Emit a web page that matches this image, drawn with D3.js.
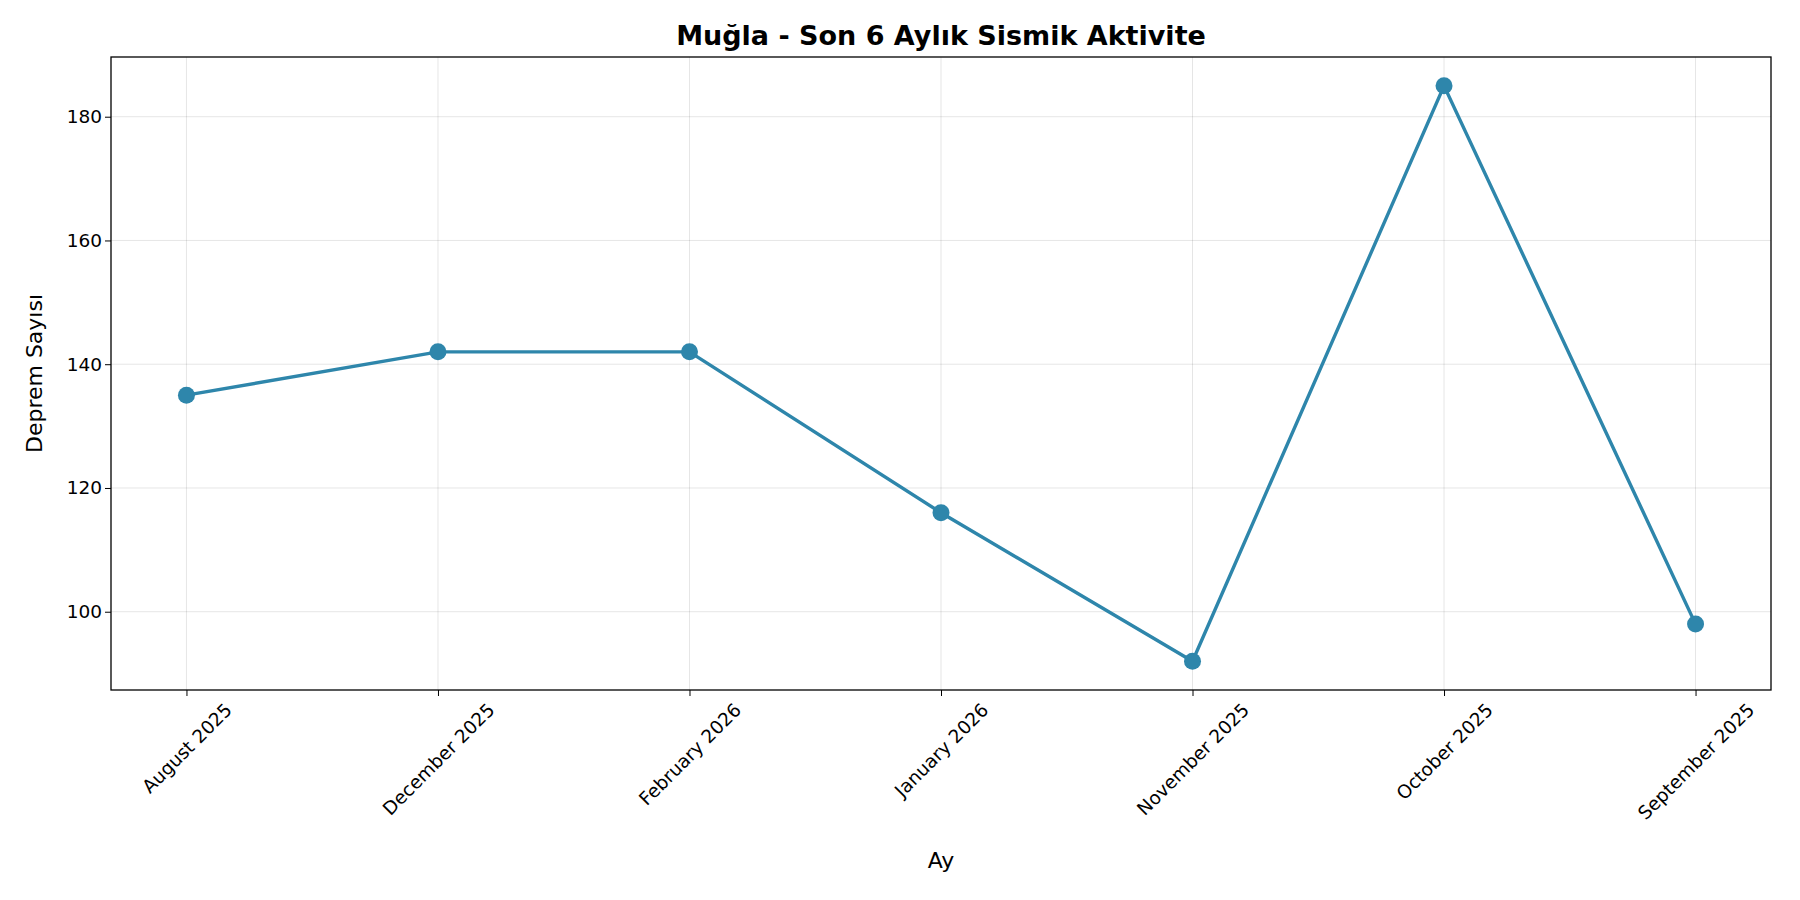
<!DOCTYPE html>
<html>
<head>
<meta charset="utf-8">
<script src="https://cdn.jsdelivr.net/npm/d3@7"></script>
<style>
  body { margin: 0; background: #fff; }
  text { font-family: "DejaVu Sans", sans-serif; }
</style>
</head>
<body>
<div id="chart"></div>
<script>
// data
const months = ['August 2025', 'December 2025', 'February 2026', 'January 2026',
  'November 2025', 'October 2025', 'September 2025']
const counts = [135, 142, 142, 116, 92, 185, 98]
const yTicks = [100, 120, 140, 160, 180]

const width = 1800, height = 900
const margin = {top: 57, right: 29, bottom: 210, left: 111}
const w = width - margin.left - margin.right
const h = height - margin.top - margin.bottom
const color = '#2E86AB'
const tickFont = 18.5

const svg = d3.select('#chart').append('svg')
  .attr('width', width).attr('height', height)
const g = svg.append('g').attr('transform', `translate(${margin.left},${margin.top})`)

const pad = (months.length - 1) * 0.05
const x = d3.scaleLinear().domain([-pad, months.length - 1 + pad]).range([0, w])
const span = d3.max(counts) - d3.min(counts)
const y = d3.scaleLinear()
  .domain([d3.min(counts) - span * 0.05, d3.max(counts) + span * 0.05])
  .range([h, 0])

// grid
g.append('g').selectAll('line').data(months).enter().append('line')
  .attr('x1', (d, i) => x(i)).attr('x2', (d, i) => x(i))
  .attr('y1', 0).attr('y2', h)
  .attr('stroke', '#000').attr('stroke-opacity', 0.1)
g.append('g').selectAll('line').data(yTicks).enter().append('line')
  .attr('x1', 0).attr('x2', w)
  .attr('y1', d => y(d)).attr('y2', d => y(d))
  .attr('stroke', '#000').attr('stroke-opacity', 0.1)

// axes
const xAxis = g.append('g').attr('transform', `translate(0,${h})`)
  .call(d3.axisBottom(x).tickValues(d3.range(months.length))
    .tickFormat(i => months[i]).tickSize(6).tickSizeOuter(0))
xAxis.selectAll('text')
  .attr('font-size', tickFont)
  .attr('text-anchor', 'middle')
  .attr('dy', null)
  .attr('dominant-baseline', 'central')
  .each(function() {
    const L = this.getComputedTextLength()
    const bh = 0.7071 * (L + tickFont * 1.15)
    d3.select(this).attr('y', 0)
      .attr('transform', `translate(0,${9 + bh / 2}) rotate(-45)`)
  })
const yAxis = g.append('g')
  .call(d3.axisLeft(y).tickValues(yTicks).tickSize(6).tickSizeOuter(0))
yAxis.selectAll('text').attr('font-size', tickFont)
g.selectAll('.domain').remove()
g.selectAll('.tick line').attr('stroke', '#000')
g.selectAll('.tick text').attr('fill', '#000').attr('font-family', 'DejaVu Sans')

g.append('rect').attr('width', w).attr('height', h)
  .attr('fill', 'none').attr('stroke', '#000').attr('stroke-width', 1.3)

// line and points
g.append('path').datum(counts)
  .attr('d', d3.line().x((d, i) => x(i)).y(d => y(d)))
  .attr('fill', 'none').attr('stroke', color).attr('stroke-width', 3.4)
g.selectAll('circle.pt').data(counts).enter().append('circle')
  .attr('class', 'pt')
  .attr('cx', (d, i) => x(i)).attr('cy', d => y(d))
  .attr('r', 8.5).attr('fill', color)

// labels
svg.append('text').attr('x', margin.left + w / 2).attr('y', 45)
  .attr('text-anchor', 'middle').attr('font-size', 27).attr('font-weight', 'bold')
  .text('Muğla - Son 6 Aylık Sismik Aktivite')
svg.append('text').attr('x', margin.left + w / 2).attr('y', 868)
  .attr('text-anchor', 'middle').attr('font-size', 22).text('Ay')
svg.append('text')
  .attr('transform', `translate(42,${margin.top + h / 2}) rotate(-90)`)
  .attr('text-anchor', 'middle').attr('font-size', 22).text('Deprem Sayısı')
</script>
</body>
</html>
